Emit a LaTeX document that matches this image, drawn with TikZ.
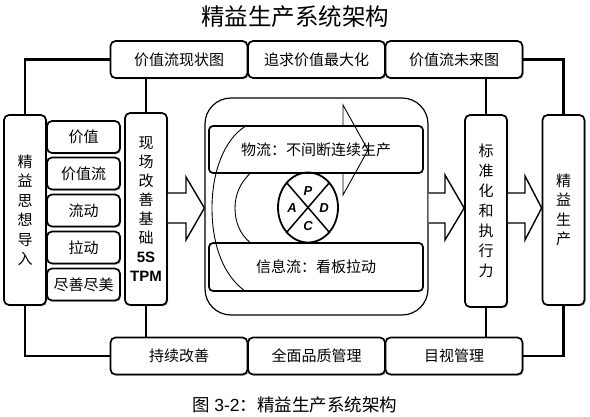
\documentclass[tikz,border=0pt]{standalone}
\usepackage{fontspec}
\setmainfont{Noto Sans CJK SC}
\newfontfamily\arialf{Liberation Sans}
\usetikzlibrary{calc,shadows,shapes.geometric}
\begin{document}
\begin{tikzpicture}[x=1pt,y=-1pt,
 box/.style={draw,line width=1.7pt,rounded corners=5pt,fill=white,inner sep=0pt,align=center,
   font=\fontsize{15}{19.5}\selectfont,
   drop shadow={shadow xshift=1.2pt,shadow yshift=-1.2pt,fill=black!45,opacity=0.7}},
 tall/.style={box,minimum width=42pt},
 small/.style={box,minimum width=73pt,minimum height=32pt},
 band/.style={box,minimum width=137pt,minimum height=37pt},
 flowbox/.style={draw,line width=1.7pt,rounded corners=4pt,inner sep=0pt,minimum width=214pt,
   font=\fontsize{15}{18}\selectfont},
 conn/.style={line width=2.2pt},
 blockarrow/.style={draw,line width=1.4pt,fill=white,line join=miter},
 thin/.style={line width=0.9pt},
 pdca/.style={font=\arialf\bfseries\itshape\fontsize{13}{13}\selectfont}
]
\useasboundingbox[fill=white] (0,0) rectangle (590,416);

% title and caption
\node[font=\fontsize{23.5}{23.5}\selectfont] (title) at (295,17) {精益生产系统架构};
\node[font=\fontsize{17.5}{17.5}\selectfont] (caption) at (295,405) {图 {\arialf 3-2}：精益生产系统架构};

% top and bottom bands
\node[band] (t1) at (179,59.5) {价值流现状图};
\node[band] (t2) at (316.5,59.5) {追求价值最大化};
\node[band] (t3) at (454,59.5) {价值流未来图};
\node[band] (b1) at (179,356) {持续改善};
\node[band] (b2) at (316.5,356) {全面品质管理};
\node[band] (b3) at (454,356) {目视管理};

% left column
\node[tall,minimum height=190pt] (think) at (25,210) {精\\益\\思\\想\\导\\入};
\node[small] (s1) at (83.5,137) {价值};
\node[small] (s2) at (83.5,173.5) {价值流};
\node[small] (s3) at (83.5,210.5) {流动};
\node[small] (s4) at (83.5,247.5) {拉动};
\node[small] (s5) at (83.5,284.5) {尽善尽美};
\node[tall,minimum height=192pt,font=\fontsize{15}{19}\selectfont] (site) at (146,209)
  {现\\场\\改\\善\\基\\础\\{\arialf\bfseries 5S}\\{\arialf\bfseries TPM}};

% right column
\node[tall,minimum height=192pt,font=\fontsize{15}{20}\selectfont] (std) at (486,211) {标\\准\\化\\和\\执\\行\\力};
\node[tall,minimum height=190pt] (lean) at (563.5,210) {精\\益\\生\\产};

% central block
\node[draw,line width=1.2pt,rounded corners=26pt,minimum width=223pt,minimum height=217pt,inner sep=0pt] (core) at (316.5,206.5) {};
\node[flowbox] (mat) at (316,149.5) [minimum height=47pt] {物流：不间断连续生产};
\node[flowbox] (info) at (316,267) [minimum height=48pt] {信息流：看板拉动};

% PDCA
\node[draw,line width=1.8pt,fill=white,ellipse,minimum width=60pt,minimum height=70pt,inner sep=0pt] (cyc) at (308,207.5) {};
\draw[line width=1.5pt] (cyc.north west) -- (cyc.south east);
\draw[line width=1.5pt] (cyc.north east) -- (cyc.south west);
\node[pdca] (pP) at (308,191) {P};
\node[pdca] (pD) at (324,208) {D};
\node[pdca] (pC) at (308,226) {C};
\node[pdca] (pA) at (292,208) {A};

% U-turn arrow (outline)
\draw[thin] (245,291) .. controls (224,276) and (212,246) .. (212,208)
  .. controls (212,172) and (224,140) .. (245,126.5) -- (343,126.5) -- (343,105) -- (368,150)
  -- (343,195) -- (343,173.5) -- (250,173.5)
  .. controls (240,183) and (235,195) .. (235,208)
  .. controls (235,222) and (240,234) .. (250,242.5);

% block arrows
\draw[blockarrow] (site.east |- 0,193) -- (186,193) -- (186,177) -- (core.west |- 0,208)
  -- (186,240) -- (186,223) -- (site.east |- 0,223);
\draw[blockarrow] (core.east |- 0,193) -- (445,193) -- (445,175) -- (std.west |- 0,208)
  -- (445,240) -- (445,223) -- (core.east |- 0,223);
\draw[blockarrow] (std.east |- 0,193) -- (525,193) -- (525,176) -- (lean.west |- 0,208)
  -- (525,240) -- (525,223) -- (std.east |- 0,223);

% connectors
\draw[conn] (t1.west) -| (think.north);
\draw[conn] (site.north) -- (site.north |- t1.south);
\draw[conn] (t3.east) -| (lean.north);
\draw[conn] (std.north) -- (std.north |- t3.south);
\draw[conn] (b1.west) -| (think.south);
\draw[conn] (site.south) -- (site.south |- b1.north);
\draw[conn] (b3.east) -| (lean.south);
\draw[conn] (std.south) -- (std.south |- b3.north);
\end{tikzpicture}
\end{document}
